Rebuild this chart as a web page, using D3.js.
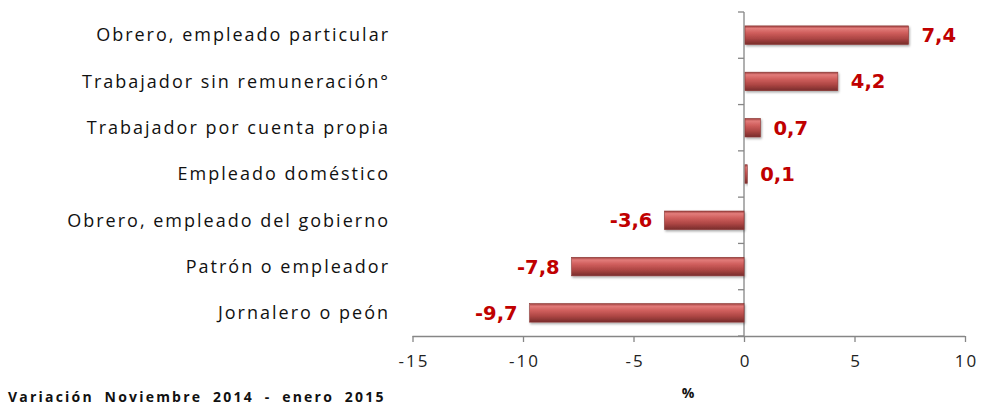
<!DOCTYPE html>
<html><head><meta charset="utf-8">
<script src="https://cdn.jsdelivr.net/npm/d3@7/dist/d3.min.js"></script>
<style>body{margin:0;background:#fff}svg{display:block}</style>
</head><body><svg id="c" width="981" height="408"></svg>
<script>
const categories = ["Obrero, empleado particular","Trabajador sin remuneración°","Trabajador por cuenta propia","Empleado doméstico","Obrero, empleado del gobierno","Patrón o empleador","Jornalero o peón"];
const values = [7.4, 4.2, 0.7, 0.1, -3.6, -7.8, -9.7];
const valueLabels = ["7,4","4,2","0,7","0,1","-3,6","-7,8","-9,7"];
const xTicks = [-15,-10,-5,0,5,10];
const xTitle = "%";
const footer = "Variación Noviembre 2014 - enero 2015";

const svg = d3.select("#c");
const x = d3.scaleLinear().domain([-15,10]).range([412.5,965]);
const y = d3.scaleBand().domain(categories).range([12,336]).paddingInner(0.6).paddingOuter(0.3);
const yb = d3.scaleBand().domain(categories).range([12,336]);

const defs = svg.append("defs");
const g = defs.append("linearGradient").attr("id","bg").attr("x1",0).attr("y1",0).attr("x2",0).attr("y2",1);
[[0,"#9c3e3c"],[0.14,"#e27c7a"],[0.38,"#cf5e5c"],[0.68,"#ad4644"],[1,"#782c2b"]].forEach(s=>g.append("stop").attr("offset",s[0]).attr("stop-color",s[1]));
const f = defs.append("filter").attr("id","sh").attr("x","-10%").attr("y","-30%").attr("width","130%").attr("height","180%");
f.append("feDropShadow").attr("dx",1).attr("dy",1.5).attr("stdDeviation",1.2).attr("flood-color","#000").attr("flood-opacity",0.35);

// axes
const x0 = x(0);
svg.append("line").attr("x1",x0).attr("x2",x0).attr("y1",12).attr("y2",336).attr("stroke","#868686").attr("stroke-width",1.3);
const yTickPos = categories.map(c=>yb(c)).concat([336]);
svg.selectAll(".yt").data(yTickPos).enter().append("line").attr("x1",x0-6).attr("x2",x0).attr("y1",d=>d).attr("y2",d=>d).attr("stroke","#868686").attr("stroke-width",1.3);

const xAxis = svg.append("g").attr("transform","translate(0,336)")
  .call(d3.axisBottom(x).tickValues(xTicks).tickSize(6).tickPadding(13));
xAxis.select(".domain").attr("stroke","#868686").attr("stroke-width",1.3).attr("d","M412.5,0.5H965");
xAxis.selectAll(".tick line").attr("stroke","#868686").attr("stroke-width",1.3);
xAxis.selectAll(".tick text").attr("font-family","Open Sans").attr("font-size",17).attr("letter-spacing","2px").attr("dx","1px").attr("fill","#222").text(d=>d<0?"-"+Math.abs(d):d);

// bars
const bars = svg.selectAll(".bar").data(values).enter().append("g");
bars.append("rect")
  .attr("x",(d)=>x(Math.min(0,d))+ (d>=0?1:0))
  .attr("y",(d,i)=>y(categories[i]))
  .attr("width",d=>Math.max(2,Math.abs(x(d)-x0)))
  .attr("height",y.bandwidth())
  .attr("fill","url(#bg)").attr("stroke","#8a3533").attr("stroke-width",0.6)
  .attr("filter","url(#sh)");

// category labels
svg.selectAll(".cl").data(categories).enter().append("text")
  .attr("x",390).attr("y",d=>yb(d)+yb.bandwidth()/2).attr("dy","0.35em")
  .attr("text-anchor","end").attr("font-family","Open Sans").attr("font-size",18).attr("letter-spacing","2px").attr("fill","#111")
  .text(d=>d);

// value labels
svg.selectAll(".vl").data(values).enter().append("text")
  .attr("x",d=>d>=0?x(d)+14:x(d)-12)
  .attr("y",(d,i)=>yb(categories[i])+yb.bandwidth()/2).attr("dy","0.36em")
  .attr("text-anchor",d=>d>=0?"start":"end")
  .attr("font-family","DejaVu Sans").attr("font-weight","bold").attr("font-size",19.5).attr("fill","#c00000")
  .text((d,i)=>valueLabels[i]);

svg.append("text").attr("x",688).attr("y",398).attr("text-anchor","middle").attr("font-family","Open Sans").attr("font-weight","bold").attr("font-size",14).attr("fill","#111").text(xTitle);
svg.append("text").attr("x",8).attr("y",402).attr("font-family","Open Sans").attr("font-weight","bold").attr("font-size",14).attr("letter-spacing","2.2px").attr("word-spacing","5px").attr("fill","#111").text(footer);
</script></body></html>
